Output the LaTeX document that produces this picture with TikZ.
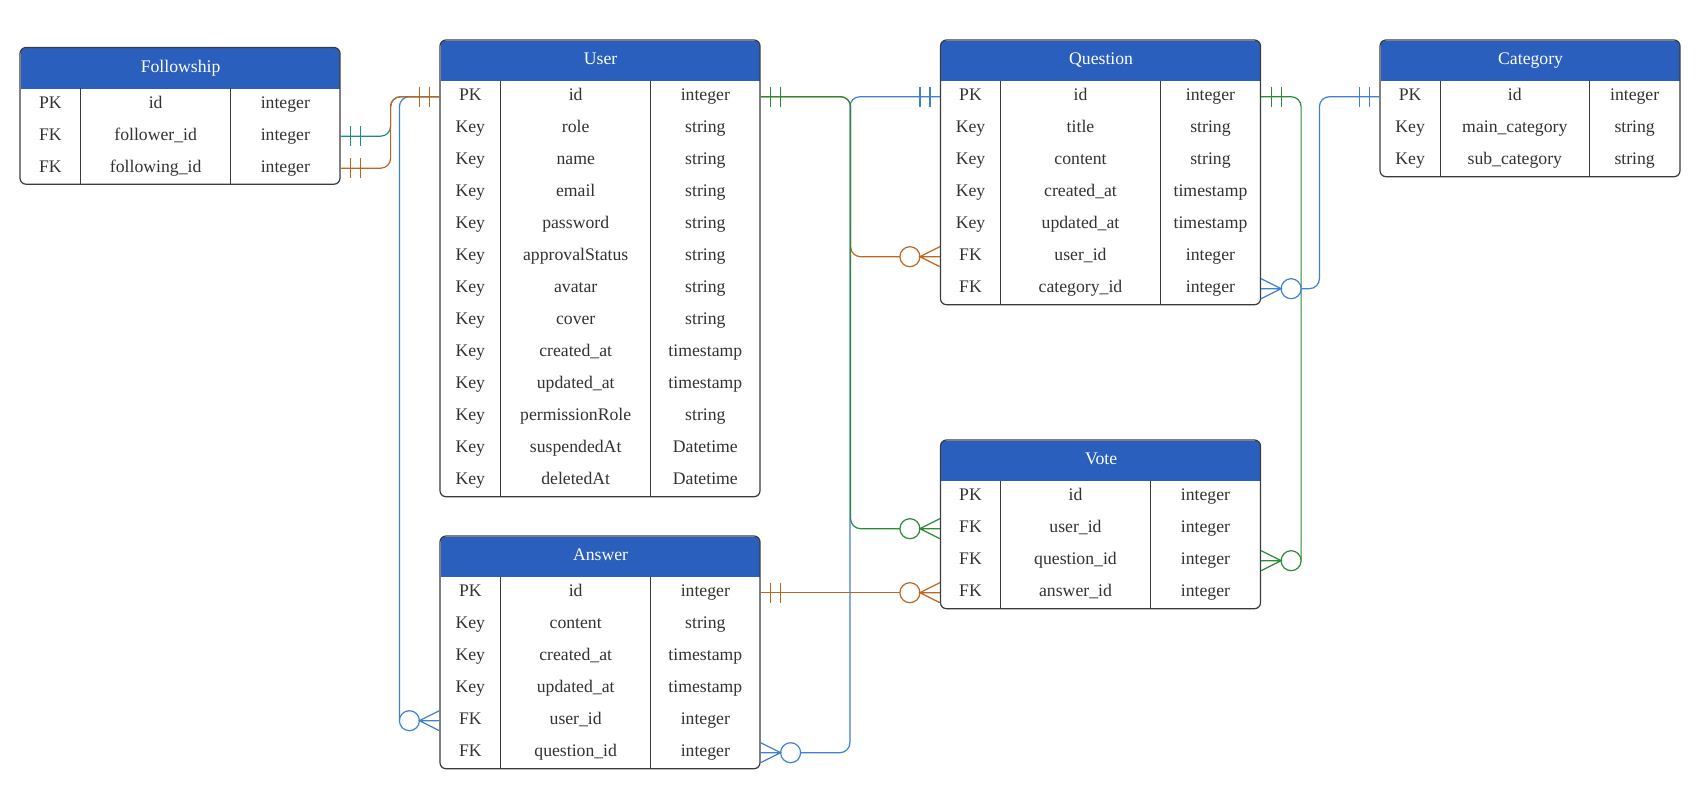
\documentclass[tikz,border=0pt]{standalone}
\usepackage{fontspec}
\setmainfont{Liberation Serif}
\definecolor{hdrblue}{HTML}{2A5FBE}
\definecolor{bordergray}{HTML}{3C3C3C}
\definecolor{txtgray}{HTML}{333333}
\definecolor{cteal}{HTML}{1F8C7E}
\definecolor{corange}{HTML}{C0651F}
\definecolor{cgreen}{HTML}{2A8A35}
\definecolor{cblue}{HTML}{3F80D0}
\newcommand\ertable[8]{%
  % #1 id, #2 x, #3 y, #4 w1, #5 w2, #6 w3, #7 title, #8 rows
  \gdef\ernrows{0}%
  \foreach \erk/\ern/\ert [count=\i] in {#8} {\xdef\ernrows{\i}}%
  \pgfmathsetmacro\erW{#4+#5+#6}%
  \pgfmathsetmacro\erH{40.7+32*\ernrows}%
  \begin{scope}
    \clip[rounded corners=6pt] (#2,#3) rectangle ++(\erW,\erH);
    \fill[white] (#2,#3) rectangle ++(\erW,\erH);
    \node[hdr, minimum width=\erW pt, anchor=north west] (#1) at (#2,#3) {#7};
  \end{scope}
  \draw[tblborder] (#2+#4,#3+40.7) -- ++(0,32*\ernrows);
  \draw[tblborder] (#2+#4+#5,#3+40.7) -- ++(0,32*\ernrows);
  \draw[tblborder, rounded corners=6pt] (#2,#3) rectangle ++(\erW,\erH);
  \foreach \erk/\ern/\ert [count=\i] in {#8} {%
    \pgfmathsetmacro\ery{#3+40.7+32*\i-16}%
    \node[cell, minimum width=#4pt] (#1-\i-k) at (#2+#4/2,\ery) {\erk};
    \node[cell, minimum width=#5pt] (#1-\i-n) at (#2+#4+#5/2,\ery) {\ern};
    \node[cell, minimum width=#6pt] (#1-\i-t) at (#2+#4+#5+#6/2,\ery) {\ert};
  }%
}
\begin{document}
\begin{tikzpicture}[x=1pt,y=-1pt,line width=1.2pt,
  hdr/.style={fill=hdrblue, text=white, minimum height=40.7pt, inner sep=0pt,
    text height=11.7pt, text depth=4pt, font=\fontsize{17.7}{20}\selectfont},
  cell/.style={minimum height=32pt, inner sep=0pt, text height=11.7pt, text depth=4pt,
    text=txtgray, font=\fontsize{17.7}{20}\selectfont},
  tblborder/.style={draw=bordergray, line width=1.2pt},
  rel/.style={line width=1.2pt, rounded corners=10pt},
  onebars/.pic={\draw (10,-10)--(10,10) (20,-10)--(20,10);},
  zmany/.pic={\draw[fill=white] (30,0) circle[radius=10pt];
    \draw (0,-10)--(20,0)--(0,10) (0,0)--(20,0);}
]
\useasboundingbox (0,0) rectangle (1703,809);

\ertable{F}{20}{47.5}{60.7}{150}{109.3}{Followship}{PK/id/integer, FK/follower\_id/integer, FK/following\_id/integer}
\ertable{U}{440}{40}{60.7}{150}{109.3}{User}{PK/id/integer, Key/role/string, Key/name/string, Key/email/string, Key/password/string, Key/approvalStatus/string, Key/avatar/string, Key/cover/string, Key/created\_at/timestamp, Key/updated\_at/timestamp, Key/permissionRole/string, Key/suspendedAt/Datetime, Key/deletedAt/Datetime}
\ertable{Q}{940.5}{40}{60}{160}{100}{Question}{PK/id/integer, Key/title/string, Key/content/string, Key/created\_at/timestamp, Key/updated\_at/timestamp, FK/user\_id/integer, FK/category\_id/integer}
\ertable{C}{1380}{40}{60.3}{149}{90.7}{Category}{PK/id/integer, Key/main\_category/string, Key/sub\_category/string}
\ertable{V}{940.5}{440}{60}{150}{110}{Vote}{PK/id/integer, FK/user\_id/integer, FK/question\_id/integer, FK/answer\_id/integer}
\ertable{A}{440}{536}{60.7}{150}{109.3}{Answer}{PK/id/integer, Key/content/string, Key/created\_at/timestamp, Key/updated\_at/timestamp, FK/user\_id/integer, FK/question\_id/integer}

% connectors
\draw[rel, cblue] (U-1-k.west) -| ([xshift=-40pt]A-5-k.west);
\draw[rel, cteal] (F-2-t.east) -- ++(50,0) |- (U-1-k.west);
\draw[rel, corange] (F-3-t.east) -- ++(50,0) |- (U-1-k.west);
\draw[rel, cblue] (Q-1-k.west) -- ++(-90,0) |- ([xshift=40pt]A-6-t.east);
\draw[rel, corange] (U-1-t.east) -- ++(90,0) |- ([xshift=-40pt]Q-6-k.west);
\draw[rel, cgreen] (U-1-t.east) -- ++(90,0) |- ([xshift=-40pt]V-2-k.west);
\draw[rel, corange] (A-1-t.east) -- ([xshift=-40pt]V-4-k.west);
\draw[rel, cgreen] (Q-1-t.east) -| ([xshift=40pt]V-3-t.east);
\draw[rel, cblue] (C-1-k.west) -- ++(-60,0) |- ([xshift=40pt]Q-7-t.east);

% markers
\pic[color=cteal] at (F-2-t.east) {onebars};
\pic[color=corange] at (F-3-t.east) {onebars};
\pic[color=cblue, xscale=-1] at (U-1-k.west) {onebars};
\pic[color=cteal, xscale=-1] at (U-1-k.west) {onebars};
\pic[color=corange, xscale=-1] at (U-1-k.west) {onebars};
\pic[color=corange] at (U-1-t.east) {onebars};
\pic[color=cgreen] at (U-1-t.east) {onebars};
\pic[color=cblue, xscale=-1] at (Q-1-k.west) {onebars};
\pic[color=cgreen] at (Q-1-t.east) {onebars};
\pic[color=cblue, xscale=-1] at (C-1-k.west) {onebars};
\pic[color=corange] at (A-1-t.east) {onebars};

\pic[color=cblue, xscale=-1] at (A-5-k.west) {zmany};
\pic[color=cblue] at (A-6-t.east) {zmany};
\pic[color=corange, xscale=-1] at (Q-6-k.west) {zmany};
\pic[color=cblue] at (Q-7-t.east) {zmany};
\pic[color=cgreen, xscale=-1] at (V-2-k.west) {zmany};
\pic[color=corange, xscale=-1] at (V-4-k.west) {zmany};
\pic[color=cgreen] at (V-3-t.east) {zmany};
\end{tikzpicture}
\end{document}
